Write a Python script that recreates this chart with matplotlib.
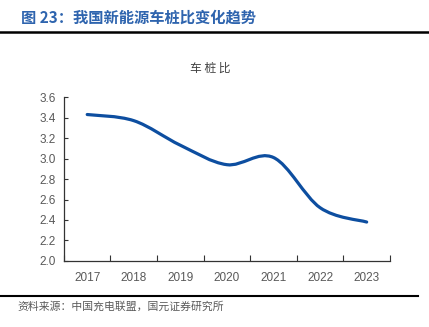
import matplotlib
matplotlib.use("Agg")
import matplotlib.pyplot as plt
from matplotlib.path import Path
from matplotlib.patches import PathPatch
from matplotlib.lines import Line2D

plt.rcParams["font.family"] = ["Noto Sans CJK SC", "DejaVu Sans"]

years = ["2017", "2018", "2019", "2020", "2021", "2022", "2023"]
ratio = [3.43, 3.37, 3.13, 2.94, 3.01, 2.52, 2.38]
yticks = [2.0, 2.2, 2.4, 2.6, 2.8, 3.0, 3.2, 3.4, 3.6]

title = "图 23：我国新能源车桩比变化趋势"
chart_title = "车 桩 比"
source = "资料来源：中国充电联盟，国元证券研究所"

blue = "#0D4EA0"
grey = "#595959"


def smooth_path(xs, ys, t=1 / 6):
    # bezier segments like the office "smoothed line"
    pts = list(zip(xs, ys))
    verts = [pts[0]]
    codes = [Path.MOVETO]
    n = len(pts)
    for i in range(n - 1):
        p0 = pts[i - 1] if i > 0 else pts[i]
        p1 = pts[i]
        p2 = pts[i + 1]
        p3 = pts[i + 2] if i + 2 < n else pts[i + 1]
        c1 = (p1[0] + (p2[0] - p0[0]) * t, p1[1] + (p2[1] - p0[1]) * t)
        c2 = (p2[0] - (p3[0] - p1[0]) * t, p2[1] - (p3[1] - p1[1]) * t)
        verts += [c1, c2, p2]
        codes += [Path.CURVE4] * 3
    return Path(verts, codes)


fig = plt.figure(figsize=(4.29, 3.27), dpi=100)
ax = fig.add_axes([0.149, 0.202, 0.76, 0.501])

xs = list(range(len(years)))
ax.add_patch(PathPatch(smooth_path(xs, ratio), facecolor="none",
                       edgecolor=blue, lw=2.3, capstyle="round"))

ax.set_xlim(-0.5, len(years) - 0.5)
ax.set_ylim(2.0, 3.6)
ax.set_yticks(yticks)
ax.set_yticklabels([f"{v:.1f}" for v in yticks], family="Liberation Sans")
ax.set_xticks([i - 0.5 for i in range(len(years) + 1)])
ax.set_xticklabels([])
ax.set_xticks(xs, minor=True)
ax.set_xticklabels(years, minor=True, family="Liberation Sans")
ax.tick_params(axis="x", which="major", direction="in", length=4, color="#333333")
ax.tick_params(axis="x", which="minor", length=0, labelsize=8.5, labelcolor=grey, pad=8)
ax.tick_params(axis="y", direction="in", length=3, color="#333333",
               labelsize=8.5, labelcolor=grey, pad=6)
for s in ["top", "right"]:
    ax.spines[s].set_visible(False)
for s in ["left", "bottom"]:
    ax.spines[s].set_color("#333333")
    ax.spines[s].set_linewidth(0.9)

fig.text(0.49, 0.79, chart_title, ha="center", va="center", fontsize=8.5, color="#404040")
fig.text(0.05, 0.945, title, ha="left", va="center", fontsize=11,
         fontweight="bold", color="#2E64AE")
fig.add_artist(Line2D([0, 1], [0.902, 0.902], color="black", lw=1.8))
fig.add_artist(Line2D([0, 0.975], [0.095, 0.095], color="black", lw=1.5))
fig.text(0.04, 0.062, source, ha="left", va="center", fontsize=7.8, color=grey)

fig.savefig("out.png", dpi=100)
